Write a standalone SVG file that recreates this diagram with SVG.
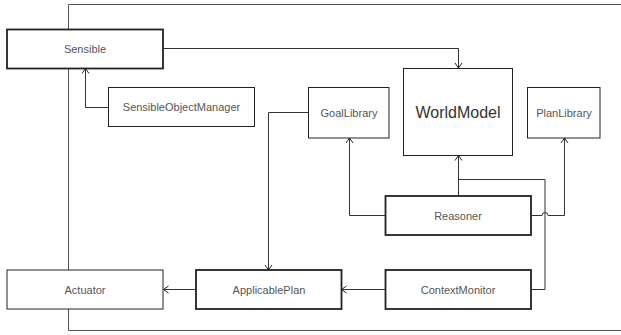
<svg xmlns="http://www.w3.org/2000/svg" width="621" height="335" viewBox="0 0 621 335">
<style>
.box{fill:#fff;stroke:#222;stroke-width:1}
.bold{stroke-width:1.8}
.lbl{font-family:"Liberation Sans",Arial,sans-serif;font-size:11px;fill:#555;text-anchor:middle;dominant-baseline:central}
.big{font-size:16px;fill:#333}
.c{fill:none;stroke:#333;stroke-width:1}
.frame{fill:none;stroke:#555;stroke-width:1}
</style>
<defs>
<marker id="arr" markerWidth="10" markerHeight="10" refX="8" refY="5" orient="auto" markerUnits="userSpaceOnUse">
<path d="M3,1.5 L8,5 L3,8.5" fill="none" stroke="#222" stroke-width="1"/>
</marker>
</defs>
<path class="frame" d="M640,4.5 H68.5 V330.5 H640"/>
<g id="connectors">
<polyline class="c" points="163,48.5 458.5,48.5 458.5,68" marker-end="url(#arr)"/>
<polyline class="c" points="108.5,107.5 85.5,107.5 85.5,68.5" marker-end="url(#arr)"/>
<polyline class="c" points="308.5,112.5 268.5,112.5 268.5,270" marker-end="url(#arr)"/>
<polyline class="c" points="196,289.5 163.5,289.5" marker-end="url(#arr)"/>
<polyline class="c" points="385,289.5 341.5,289.5" marker-end="url(#arr)"/>
<polyline class="c" points="385,215.5 349.5,215.5 349.5,138" marker-end="url(#arr)"/>
<polyline class="c" points="458.5,196 458.5,155.5" marker-end="url(#arr)"/>
<path class="c" d="M531,215.5 H542 A3,3 0 0 1 548,215.5 H564.5 V138" marker-end="url(#arr)"/>
<polyline class="c" points="531,289.5 545,289.5 545,179.5 458.5,179.5"/>
</g>
<g id="Sensible"><rect class="box bold" x="7" y="29.5" width="156" height="39"/><text class="lbl" x="85" y="49">Sensible</text></g>
<g id="SensibleObjectManager"><rect class="box" x="108.5" y="87.5" width="146" height="39"/><text class="lbl" x="181.5" y="107">SensibleObjectManager</text></g>
<g id="GoalLibrary"><rect class="box" x="308.5" y="87.5" width="80.5" height="50.5"/><text class="lbl" x="349" y="113">GoalLibrary</text></g>
<g id="WorldModel"><rect class="box" x="403.5" y="68.5" width="109" height="87"/><text class="lbl big" x="458" y="112">WorldModel</text></g>
<g id="PlanLibrary"><rect class="box" x="527.5" y="87.5" width="72.5" height="50.5"/><text class="lbl" x="564" y="113">PlanLibrary</text></g>
<g id="Reasoner"><rect class="box bold" x="385.5" y="196" width="145.5" height="39"/><text class="lbl" x="458" y="216">Reasoner</text></g>
<g id="Actuator"><rect class="box" x="7" y="270" width="156" height="39"/><text class="lbl" x="85" y="290">Actuator</text></g>
<g id="ApplicablePlan"><rect class="box bold" x="196" y="270" width="145.5" height="39"/><text class="lbl" x="269" y="290">ApplicablePlan</text></g>
<g id="ContextMonitor"><rect class="box bold" x="385.5" y="270" width="145.5" height="39"/><text class="lbl" x="458" y="290">ContextMonitor</text></g>
</svg>
